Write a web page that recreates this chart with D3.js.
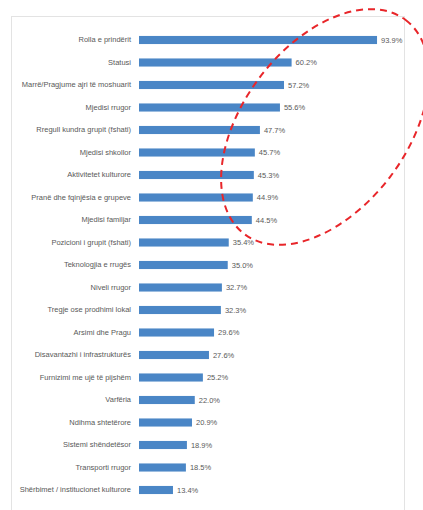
<!DOCTYPE html>
<html lang="sq">
  <head>
    <meta charset="UTF-8" />
    <script src="https://d3js.org/d3.v7.min.js"></script>
    <style>
      body { margin: 0; background: #fff; }
      svg { display: block; }
      .cat { font-family: "Liberation Sans Narrow", "Liberation Sans", sans-serif; font-size: 7.5px; fill: #595959; }
      .val { font-family: "Liberation Sans Narrow", "Liberation Sans", sans-serif; font-size: 7.5px; fill: #595959; }
    </style>
  </head>
  <body>
    <div id="chart"></div>
    <script>
      // kategoritë dhe përqindjet
      var categories = [
        "Rolla e prindërit",
        "Statusi",
        "Marrë/Pragjume ajri të moshuarit",
        "Mjedisi rrugor",
        "Rregull kundra grupit (fshati)",
        "Mjedisi shkollor",
        "Aktivitetet kulturore",
        "Pranë dhe fqinjësia e grupeve",
        "Mjedisi familjar",
        "Pozicioni i grupit (fshati)",
        "Teknologjia e rrugës",
        "Niveli rrugor",
        "Tregje ose prodhimi lokal",
        "Arsimi dhe Pragu",
        "Disavantazhi i infrastrukturës",
        "Furnizimi me ujë të pijshëm",
        "Varfëria",
        "Ndihma shtetërore",
        "Sistemi shëndetësor",
        "Transporti rrugor",
        "Shërbimet / institucionet kulturore"
      ];
      var values = [93.9, 60.2, 57.2, 55.6, 47.7, 45.7, 45.3, 44.9, 44.5, 35.4, 35.0,
                    32.7, 32.3, 29.6, 27.6, 25.2, 22.0, 20.9, 18.9, 18.5, 13.4];
      var xDomain = [0, 100];

      var width = 423, height = 510;
      var data = categories.map(function (c, i) { return { name: c, value: values[i] }; });

      var svg = d3.select("#chart").append("svg")
        .attr("width", width)
        .attr("height", height);

      // panel
      svg.append("rect")
        .attr("x", 11.5).attr("y", 16.5)
        .attr("width", 393).attr("height", 500)
        .attr("fill", "#fff")
        .attr("stroke", "#e3e3e3");

      var x = d3.scaleLinear().domain(xDomain).range([139, 392.5]);
      var y = d3.scaleBand()
        .domain(categories)
        .range([28.75, 501.25])
        .paddingInner(0.64)
        .paddingOuter(0.32);

      // bars
      svg.selectAll("rect.bar")
        .data(data)
        .enter()
        .append("rect")
        .attr("class", "bar")
        .attr("x", x(0))
        .attr("y", function (d) { return y(d.name); })
        .attr("width", function (d) { return x(d.value) - x(0); })
        .attr("height", y.bandwidth())
        .attr("fill", "#4a86c6");

      // category labels via axis
      var axis = svg.append("g")
        .attr("transform", "translate(" + (x(0) - 8) + ",0)")
        .call(d3.axisLeft(y).tickSize(0).tickPadding(0));
      axis.select(".domain").remove();
      axis.selectAll("text")
        .attr("class", "cat")
        .attr("font-family", null)
        .attr("font-size", null)
        .attr("fill", null);

      // value labels
      svg.selectAll("text.val")
        .data(data)
        .enter()
        .append("text")
        .attr("class", "val")
        .attr("x", function (d) { return x(d.value) + 4; })
        .attr("y", function (d) { return y(d.name) + y.bandwidth() / 2; })
        .attr("dy", "0.35em")
        .text(function (d) { return d.value.toFixed(1) + "%"; });

      // red dashed ellipse (annotation)
      svg.append("ellipse")
        .attr("cx", 0).attr("cy", 0)
        .attr("rx", 134).attr("ry", 82)
        .attr("transform", "translate(325,127) rotate(-53)")
        .attr("fill", "none")
        .attr("stroke", "#e8262a")
        .attr("stroke-width", 2)
        .attr("stroke-dasharray", "7,5");
    </script>
  </body>
</html>
